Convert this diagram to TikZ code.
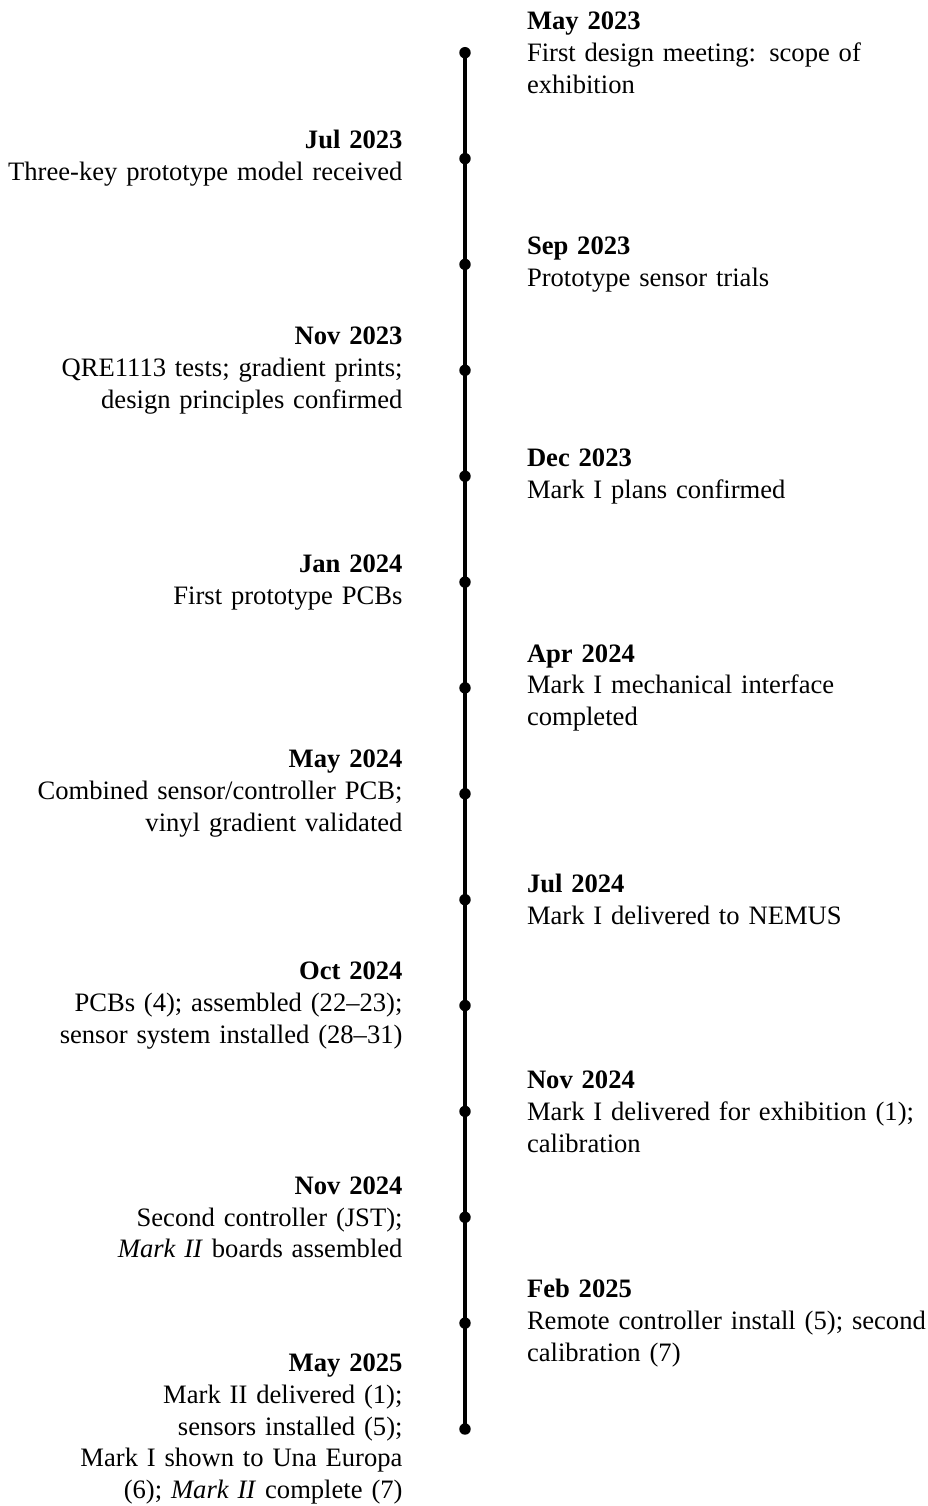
\documentclass[tikz,border=0pt]{standalone}
\usepackage{fontspec}
\setmainfont{Liberation Serif}
\begin{document}
\begin{tikzpicture}[x=0.376pt,y=-0.376pt,
  every node/.style={inner sep=0pt, outer sep=0pt, font=\fontsize{10}{12}\selectfont},
  evright/.style={anchor=west, align=left, text width=170pt},
  evleft/.style={anchor=east, align=right, text width=170pt},
  evdot/.style={circle, fill=black, minimum size=4.3pt, inner sep=0pt},
  spine/.style={line width=1.2pt, line cap=round}]
\useasboundingbox (0,0) rectangle (927,1506);

% markers on the time axis
\node[evdot] (d1)  at (465,52.7)   {};
\node[evdot] (d2)  at (465,158.6)  {};
\node[evdot] (d3)  at (465,264.4)  {};
\node[evdot] (d4)  at (465,370.3)  {};
\node[evdot] (d5)  at (465,476.2)  {};
\node[evdot] (d6)  at (465,582.1)  {};
\node[evdot] (d7)  at (465,687.9)  {};
\node[evdot] (d8)  at (465,793.8)  {};
\node[evdot] (d9)  at (465,899.7)  {};
\node[evdot] (d10) at (465,1005.5) {};
\node[evdot] (d11) at (465,1111.4) {};
\node[evdot] (d12) at (465,1217.3) {};
\node[evdot] (d13) at (465,1323.1) {};
\node[evdot] (d14) at (465,1429.0) {};

% the axis itself
\draw[spine] (d1.center) -- (d14.center);

% events, alternating sides
\node[evright] (e1)  at (527,52.7)   {\textbf{May 2023}\\First design meeting: scope of\\exhibition};
\node[evleft]  (e2)  at (402.5,158.6)  {\textbf{Jul 2023}\\Three-key prototype model received};
\node[evright] (e3)  at (527,264.4)  {\textbf{Sep 2023}\\Prototype sensor trials};
\node[evleft]  (e4)  at (402.5,370.3)  {\textbf{Nov 2023}\\QRE1113 tests; gradient prints;\\design principles confirmed};
\node[evright] (e5)  at (527,476.2)  {\textbf{Dec 2023}\\Mark I plans confirmed};
\node[evleft]  (e6)  at (402.5,582.1)  {\textbf{Jan 2024}\\First prototype PCBs};
\node[evright] (e7)  at (527,687.9)  {\textbf{Apr 2024}\\Mark I mechanical interface\\completed};
\node[evleft]  (e8)  at (402.5,793.8)  {\textbf{May 2024}\\Combined sensor/controller PCB;\\vinyl gradient validated};
\node[evright] (e9)  at (527,899.7)  {\textbf{Jul 2024}\\Mark I delivered to NEMUS};
\node[evleft]  (e10) at (402.5,1005.5) {\textbf{Oct 2024}\\PCBs (4); assembled (22--23);\\sensor system installed (28--31)};
\node[evright] (e11) at (527,1111.4) {\textbf{Nov 2024}\\Mark I delivered for exhibition (1);\\calibration};
\node[evleft]  (e12) at (402.5,1217.3) {\textbf{Nov 2024}\\Second controller (JST);\\\textit{Mark II} boards assembled};
\node[evright] (e13) at (527,1323.1) {\textbf{Feb 2025}\\Remote controller install (5); second\\calibration (7)};
\node[evleft]  (e14) at (402.5,1429.0) {\textbf{May 2025}\\Mark II delivered (1);\\sensors installed (5);\\Mark I shown to Una Europa\\(6); \textit{Mark II} complete (7)};
\end{tikzpicture}
\end{document}
